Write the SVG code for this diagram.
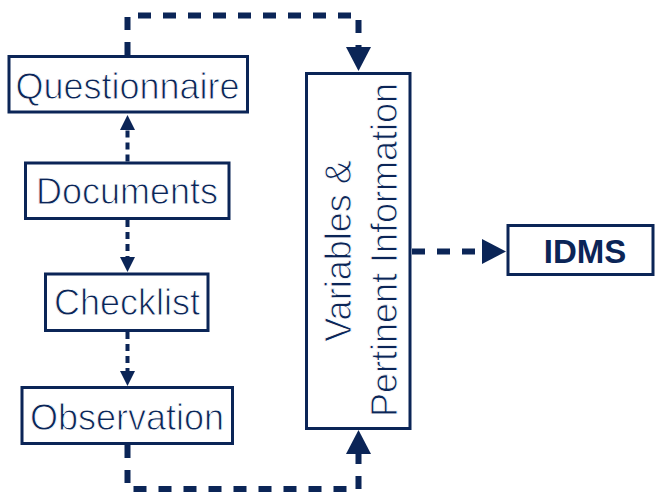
<svg xmlns="http://www.w3.org/2000/svg" width="655" height="494" viewBox="0 0 655 494">
<style>
.box{fill:#fff;stroke:#0b2557;stroke-width:3}
.lbl{font-family:"Liberation Sans",Arial,sans-serif;font-size:36px;fill:#0b2557;text-anchor:middle;stroke:#fff;stroke-width:0.9px}
.bold{font-weight:bold;font-size:33px;stroke:none}
.thick{fill:none;stroke:#0b2557;stroke-width:6;stroke-dasharray:13 12}
.thin{fill:none;stroke:#0b2557;stroke-width:4;stroke-dasharray:7 5}
</style>
<defs>
<marker id="bigHead" markerUnits="userSpaceOnUse" viewBox="0 -13 25 26" markerWidth="25" markerHeight="26" refX="0" refY="0" orient="auto" overflow="visible">
<path d="M0,-12.5 L24,0 L0,12.5 Z" fill="#0b2557"/>
</marker>
<marker id="smallHead" markerUnits="userSpaceOnUse" viewBox="0 -8 16 16" markerWidth="16" markerHeight="16" refX="0" refY="0" orient="auto" overflow="visible">
<path d="M0,-7.5 L15,0 L0,7.5 Z" fill="#0b2557"/>
</marker>
</defs>
<g id="connectors">
<path class="thick" d="M127.5 55 V15.5 H358.5 V47" marker-end="url(#bigHead)"/>
<path class="thick" d="M127.5 445 V489 H358.5 V454" marker-end="url(#bigHead)"/>
<path class="thick" d="M412 251.5 H482" marker-end="url(#bigHead)"/>
<path class="thin" d="M127.5 161.5 V130" marker-end="url(#smallHead)"/>
<path class="thin" d="M127.5 220 V257" marker-end="url(#smallHead)"/>
<path class="thin" d="M127.5 332 V371" marker-end="url(#smallHead)"/>
</g>
<g id="questionnaire">
<rect class="box" x="9" y="56.5" width="238.5" height="55.5"/>
<text class="lbl" x="127.5" y="99">Questionnaire</text>
</g>
<g id="documents">
<rect class="box" x="25.5" y="163" width="203.5" height="55.5"/>
<text class="lbl" x="127" y="204">Documents</text>
</g>
<g id="checklist">
<rect class="box" x="45.5" y="274" width="162.5" height="56.5"/>
<text class="lbl" x="127" y="315">Checklist</text>
</g>
<g id="observation">
<rect class="box" x="22" y="387.5" width="210.5" height="56"/>
<text class="lbl" x="127" y="430">Observation</text>
</g>
<g id="variables">
<rect class="box" x="306.5" y="73.5" width="103.5" height="355"/>
<text class="lbl" transform="translate(351,251) rotate(-90)">Variables &amp;</text>
<text class="lbl" transform="translate(397,250) rotate(-90)">Pertinent Information</text>
</g>
<g id="idms">
<rect class="box" x="508" y="225.5" width="145" height="49"/>
<text class="lbl bold" x="585" y="263">IDMS</text>
</g>
</svg>
